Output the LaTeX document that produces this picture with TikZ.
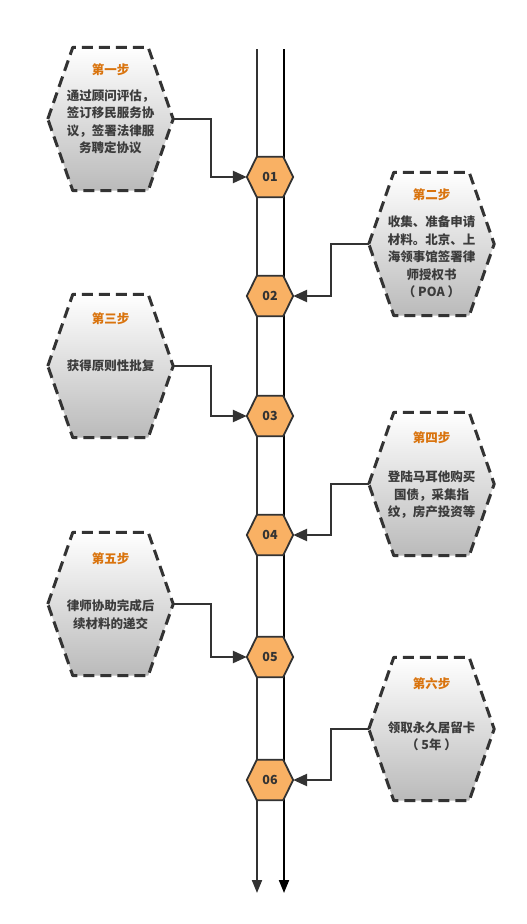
\documentclass[tikz,border=0pt]{standalone}
\usepackage{fontspec}
\setmainfont{Noto Sans CJK SC}
\usetikzlibrary{arrows.meta,calc}
\definecolor{dk}{HTML}{333333}
\definecolor{org}{HTML}{F9B164}
\definecolor{ttl}{HTML}{D9730D}
\definecolor{txt}{HTML}{3C3C3C}
\tikzset{
 bigbox/.style={minimum width=125pt,minimum height=143pt,inner sep=0pt},
 smallbox/.style={minimum width=46pt,minimum height=40pt,inner sep=0pt},
 numtext/.style={font=\bfseries\fontsize{12.5}{14}\selectfont,text=dk,inner sep=0pt},
 hexborder/.style={draw=dk,line width=3pt,dash pattern=on 11pt off 6pt,top color=white,bottom color=black!27,line join=round},
 smallhex/.style={draw=dk,line width=1.8pt,fill=org,line join=miter},
 ttlstyle/.style={font=\bfseries\fontsize{12.5}{14}\selectfont,text=ttl,inner sep=0pt},
 bodystyle/.style={font=\bfseries\fontsize{12.5}{17.5}\selectfont,text=txt,align=center,inner sep=0pt},
 conn/.style={draw=dk,line width=2.5pt,-{Triangle[length=14pt,width=12pt]}},
 axisline/.style={line width=2pt,-{Triangle[length=13pt,width=10pt]}},
}
\newcommand\myBigHex[1]{\path[hexborder] (#1.west) -- ($(#1.north west)+(25,0)$) -- ($(#1.north east)+(-25,0)$) -- (#1.east) -- ($(#1.south east)+(-25,0)$) -- ($(#1.south west)+(25,0)$) -- cycle;}
\newcommand\mySmallHex[1]{\path[smallhex] (#1.west) -- ($(#1.north west)+(10,0)$) -- ($(#1.north east)+(-10,0)$) -- (#1.east) -- ($(#1.south east)+(-10,0)$) -- ($(#1.south west)+(10,0)$) -- cycle;}
\begin{document}
\begin{tikzpicture}[x=1pt,y=-1pt]
\useasboundingbox (0,0) rectangle (527,924);
% axis lines
\coordinate (ltop) at (257,49);
\coordinate (lbot) at (257,893);
\coordinate (rtop) at (284,49);
\coordinate (rbot) at (284,893);
\draw[axisline,draw=dk,fill=dk] (ltop) -- (lbot);
\draw[axisline,draw=black,fill=black] (rtop) -- (rbot);
% frames
\node[bigbox] (s1) at (110.5,119) {};
\node[bigbox] (s2) at (431.5,244) {};
\node[bigbox] (s3) at (110.5,366) {};
\node[bigbox] (s4) at (431.5,484) {};
\node[bigbox] (s5) at (110.5,604) {};
\node[bigbox] (s6) at (431.5,729) {};
\node[smallbox] (h1) at (270,177) {};
\node[smallbox] (h2) at (270,296) {};
\node[smallbox] (h3) at (270,416) {};
\node[smallbox] (h4) at (270,535) {};
\node[smallbox] (h5) at (270,657) {};
\node[smallbox] (h6) at (270,780) {};
\myBigHex{s1}\myBigHex{s2}\myBigHex{s3}\myBigHex{s4}\myBigHex{s5}\myBigHex{s6}
\mySmallHex{h1}\mySmallHex{h2}\mySmallHex{h3}\mySmallHex{h4}\mySmallHex{h5}\mySmallHex{h6}
\node[numtext] (n1) at (h1) {01};
\node[numtext] (n2) at (h2) {02};
\node[numtext] (n3) at (h3) {03};
\node[numtext] (n4) at (h4) {04};
\node[numtext] (n5) at (h5) {05};
\node[numtext] (n6) at (h6) {06};
% connectors
\draw[conn] (s1.east) -- ++(38,0) |- (h1.west);
\draw[conn] (s2.west) -- ++(-38,0) |- (h2.east);
\draw[conn] (s3.east) -- ++(38,0) |- (h3.west);
\draw[conn] (s4.west) -- ++(-38,0) |- (h4.east);
\draw[conn] (s5.east) -- ++(38,0) |- (h5.west);
\draw[conn] (s6.west) -- ++(-38,0) |- (h6.east);
% titles
\node[ttlstyle] (t1) at (110.5,70) {第一步};
\node[ttlstyle] (t2) at (431.5,195) {第二步};
\node[ttlstyle] (t3) at (110.5,319) {第三步};
\node[ttlstyle] (t4) at (431.5,438) {第四步};
\node[ttlstyle] (t5) at (110.5,559) {第五步};
\node[ttlstyle] (t6) at (431.5,684) {第六步};
% bodies
\node[bodystyle] (b1) at (110.5,122) {通过顾问评估，\\签订移民服务协\\议，签署法律服\\务聘定协议};
\node[bodystyle] (b2) at (431.5,257) {收集、准备申请\\材料。北京、上\\海领事馆签署律\\师授权书\\（ POA ）};
\node[bodystyle] (b3) at (110.5,366) {获得原则性批复};
\node[bodystyle] (b4) at (431.5,495) {登陆马耳他购买\\国债，采集指\\纹，房产投资等};
\node[bodystyle] (b5) at (110.5,614.5) {律师协助完成后\\续材料的递交};
\node[bodystyle] (b6) at (431.5,736) {领取永久居留卡\\（ 5年 ）};
\end{tikzpicture}
\end{document}
